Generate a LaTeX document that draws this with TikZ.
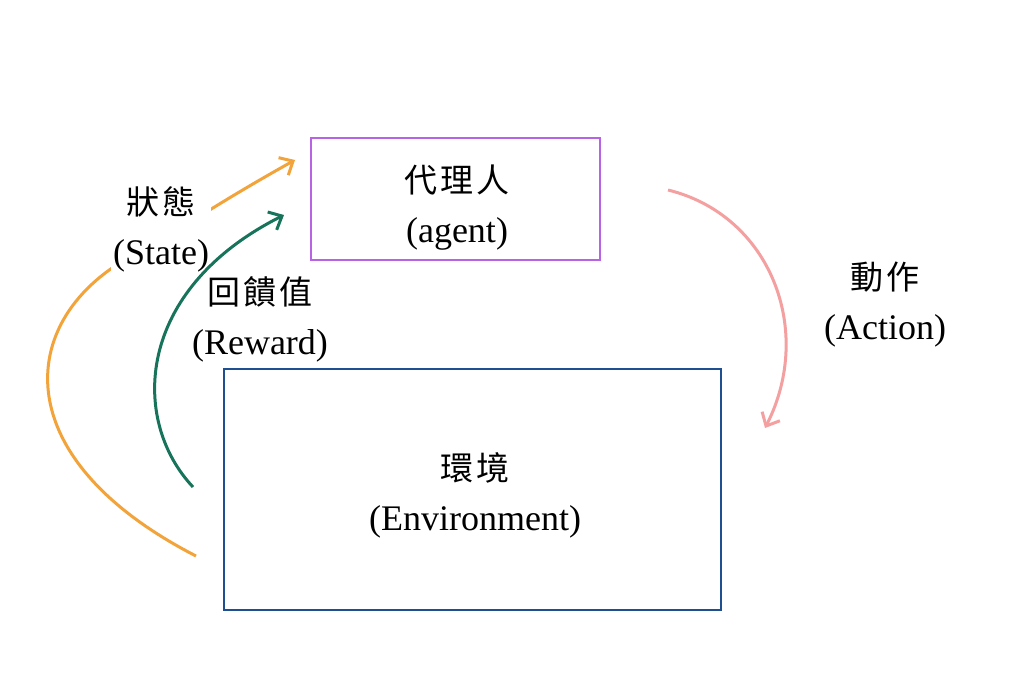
\documentclass[tikz,border=0pt]{standalone}
\usepackage{fontspec}
\setmainfont{Liberation Serif}
\newfontfamily\cjk[LetterSpace=8]{Noto Sans CJK TC}
\usetikzlibrary{arrows.meta}
\definecolor{agentc}{HTML}{B862E6}
\definecolor{envc}{HTML}{1D4F91}
\definecolor{statec}{HTML}{F2A33A}
\definecolor{rewardc}{HTML}{17735A}
\definecolor{actionc}{HTML}{F4A0A0}
\newcommand{\zhtxt}[1]{{\cjk\fontsize{33}{50}\selectfont #1}}
\tikzset{
  box/.style={draw, line width=2.8pt, inner sep=0pt},
  lbl/.style={align=center, inner sep=2pt, font=\fontsize{36}{50}\selectfont},
  flow/.style={line width=3pt, -{Straight Barb[length=11pt,width=20pt]}},
}
\begin{document}
\begin{tikzpicture}[x=1pt,y=-1pt]
\useasboundingbox (0,0) rectangle (1024,672);
\fill[white] (0,0) rectangle (1024,672);
% boxes
\node[box, draw=agentc, minimum width=289pt, minimum height=122pt] (agent) at (455.5,199) {};
\node[lbl] (agenttxt) at (457,208) {\zhtxt{代理人}\\(agent)};
\node[box, draw=envc, minimum width=497pt, minimum height=241pt] (env) at (472.5,489.5) {};
\node[lbl] (envtxt) at (475,495.5) {\zhtxt{環境}\\(Environment)};
% endpoints
\coordinate (aOut) at (668,190);
\coordinate (aIn) at (765,428);
\coordinate (rOut) at (193,487);
\coordinate (rIn) at (284,215);
\coordinate (sOut) at (196,556);
\coordinate (sIn) at (295,160);
% action
\draw[flow, draw=actionc] (aOut) .. controls (770,215) and (815,330) .. (aIn);
\node[lbl] (actlbl) at (885,305) {\zhtxt{動作}\\(Action)};
% state
\draw[flow, draw=statec] (sOut) .. controls (-10,450) and (20,300) .. (155,245) .. controls (200,215) and (250,185) .. (sIn);
\node[lbl, fill=white] (statelbl) at (161,229) {\zhtxt{狀態}\\(State)};
% reward
\draw[flow, draw=rewardc] (rOut) .. controls (130,420) and (135,290) .. (rIn);
\node[lbl] (rewlbl) at (260,319) {\zhtxt{回饋值}\\(Reward)};
\end{tikzpicture}
\end{document}
